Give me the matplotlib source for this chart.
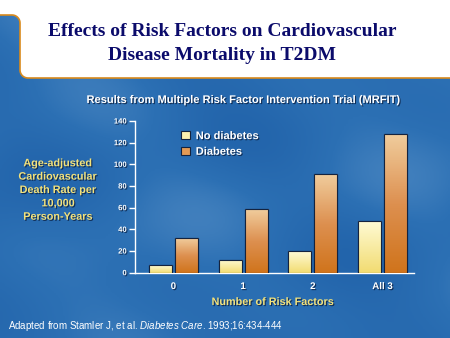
import numpy as np
import matplotlib
matplotlib.use('Agg')
import matplotlib.pyplot as plt
import matplotlib.patheffects as pe
from matplotlib.patches import Rectangle, PathPatch
from matplotlib.path import Path
from matplotlib.colors import LinearSegmentedColormap

plt.rcParams['mathtext.fontset'] = 'custom'
plt.rcParams['mathtext.it'] = 'Liberation Sans:italic'
plt.rcParams['mathtext.rm'] = 'Liberation Sans'

# data
categories = ['0', '1', '2', 'All 3']
no_diabetes = [7, 12, 20, 48]
diabetes = [32, 59, 91, 128]
series_names = ['No diabetes', 'Diabetes']

W, H = 450, 338
fig = plt.figure(figsize=(4.5, 3.38), dpi=100)

# background: blue sky
bg = fig.add_axes([0, 0, 1, 1])
bg.set_xlim(0, W)
bg.set_ylim(H, 0)
bg.axis('off')
xx, yy = np.meshgrid(np.linspace(0, 1, 200), np.linspace(0, 1, 150))
cloud = (0.5 + 0.25 * np.sin(7 * xx + 3 * yy) * np.cos(5 * yy - 2 * xx)
         + 0.15 * np.sin(13 * xx - 9 * yy + 1.3) + 0.1 * np.cos(17 * yy + 4 * xx))
sky = LinearSegmentedColormap.from_list('sky', ['#1f60a8', '#2c70b4', '#5a92c8'])
bg.imshow(cloud, cmap=sky, extent=[0, W, H, 0], aspect='auto', vmin=-0.1, vmax=1.3, zorder=0)

# white title band with orange edge
r = 8
t1 = np.linspace(0, np.pi / 2, 12)
pts = [(-5, -5), (W + 5, -5), (W + 5, 78)]
pts += [(20 + r, 78)]
pts += [(20 + r - r * np.sin(a), 78 - r + r * np.cos(a)) for a in t1]
pts += [(20, 15 + r)]
pts += [(20 - r + r * np.cos(a), 15 + r - r * np.sin(a)) for a in t1]
pts += [(-5, 15), (-5, -5)]
band = PathPatch(Path(pts, closed=True), facecolor='white', edgecolor='#d98a1c', lw=1.2, zorder=2)
bg.add_patch(band)

bg.text(222, 31, 'Effects of Risk Factors on Cardiovascular', ha='center', va='center',
        fontsize=14, fontweight='bold', family='Liberation Serif', color='#0b0b6b', zorder=3)
bg.text(222, 56, 'Disease Mortality in T2DM', ha='center', va='center',
        fontsize=14, fontweight='bold', family='Liberation Serif', color='#0b0b6b', zorder=3)

shadow = [pe.withSimplePatchShadow(offset=(0.8, -0.8), shadow_rgbFace='#0a1f40', alpha=0.8)]
bg.text(244, 100, 'Results from Multiple Risk Factor Intervention Trial (MRFIT)', ha='center',
        va='center', fontsize=8.0, fontweight='bold', family='Liberation Sans', color='white',
        path_effects=shadow, zorder=3)
bg.text(58, 190, 'Age-adjusted\nCardiovascular\nDeath Rate per\n10,000\nPerson-Years',
        ha='center', va='center', fontsize=7.8, fontweight='bold', family='Liberation Sans',
        color='#f4e27a', linespacing=1.42, path_effects=shadow, zorder=3)
bg.text(273, 302, 'Number of Risk Factors', ha='center', va='center', fontsize=7.8,
        fontweight='bold', family='Liberation Sans', color='#f4e27a', path_effects=shadow, zorder=3)
bg.text(8, 326, 'Adapted from Stamler J, et al. $\\mathit{Diabetes\\ Care}$. 1993;16:434-444',
        ha='left', va='center', fontsize=7, family='Liberation Sans', color='white', zorder=3)

# chart
ax = fig.add_axes([0.30, (H - 272.7) / H, 0.62, (272.7 - 121) / H])
ax.patch.set_alpha(0)
x = np.arange(len(categories))
bw = 0.33
b1 = ax.bar(x - bw / 2 - 0.02, no_diabetes, bw, color='#f8eda0', edgecolor='#14233f', lw=0.8, zorder=3)
b2 = ax.bar(x + bw / 2 + 0.02, diabetes, bw, color='#e39a55', edgecolor='#14233f', lw=0.8, zorder=3)

yel = LinearSegmentedColormap.from_list('yel', ['#fffbd6', '#f2dc72'])
org = LinearSegmentedColormap.from_list('org', ['#f0cc9c', '#dd9050', '#d0741c'])
grad = np.linspace(0, 1, 64).reshape(-1, 1)
for bars, cm in ((b1, yel), (b2, org)):
    for b in bars:
        im = ax.imshow(grad, cmap=cm, aspect='auto', zorder=3.5,
                       extent=[b.get_x(), b.get_x() + b.get_width(), 0, b.get_height()])
        im.set_clip_path(b)
        edge = Rectangle((b.get_x(), 0), b.get_width(), b.get_height(), fill=False,
                         edgecolor='#14233f', lw=0.8, zorder=4)
        ax.add_patch(edge)

ax.set_xlim(-0.55, 3.45)
ax.set_ylim(0, 140)
ax.set_yticks(range(0, 141, 20))
ax.set_xticks(x)
ax.set_xticklabels(categories)
for s in ['top', 'right']:
    ax.spines[s].set_visible(False)
for s in ['left', 'bottom']:
    ax.spines[s].set_color('white')
    ax.spines[s].set_linewidth(1)
ax.tick_params(axis='y', colors='white', length=4, width=1, labelsize=5.5, pad=2)
ax.tick_params(axis='x', colors='white', length=0, labelsize=7, pad=6)
for lab in ax.get_yticklabels() + ax.get_xticklabels():
    lab.set_fontweight('bold')
    lab.set_family('Liberation Sans')
    lab.set_path_effects(shadow)

leg = ax.legend([b1, b2], series_names, loc='upper left', bbox_to_anchor=(0.13, 1.0),
                frameon=False, handlelength=0.8, handleheight=0.8, handletextpad=0.5,
                labelspacing=0.5, prop={'family': 'Liberation Sans', 'weight': 'bold', 'size': 8})
leg.legend_handles[0].set_facecolor('#fbf1b0')
leg.legend_handles[1].set_facecolor('#e39a55')
for t in leg.get_texts():
    t.set_color('white')
    t.set_path_effects(shadow)

fig.savefig('out.png', dpi=100)
